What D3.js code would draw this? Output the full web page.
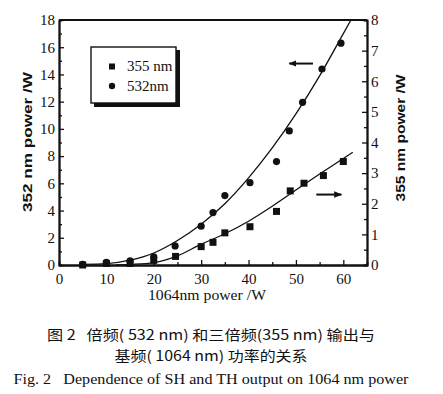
<!DOCTYPE html>
<html>
<head>
<meta charset="utf-8">
<script src="https://cdn.jsdelivr.net/npm/d3@7"></script>
<style>
  body { margin: 0; background: #fff; }
  text { fill: #111; }
</style>
</head>
<body>
<div class="chart"></div>
<script>
// data
var xTicks = [0, 10, 20, 30, 40, 50, 60];
var leftTicks = [0, 2, 4, 6, 8, 10, 12, 14, 16, 18];
var rightTicks = [0, 1, 2, 3, 4, 5, 6, 7, 8];

// 532 nm (circles, left axis)
var shX = [5, 10, 15, 20, 24.5, 30, 32.5, 35, 40.3, 45.9, 48.6, 51.4, 55.5, 59.5];
var shW = [0.05, 0.2, 0.3, 0.6, 1.4, 2.85, 3.85, 5.1, 6.05, 7.6, 9.85, 11.95, 14.4, 16.3];
var shFitX = [5, 10, 15, 20, 25, 30, 35, 40, 45, 50, 55, 60, 61.6];
var shFitW = [0.05, 0.1, 0.35, 0.88, 1.8, 3.0, 4.5, 6.4, 8.6, 11.1, 13.9, 17.0, 18];

// 355 nm (squares, right axis)
var thX = [5, 10, 15, 20, 24.6, 30, 32.5, 35, 40.3, 45.9, 48.8, 51.7, 55.8, 60];
var thW = [0, 0.05, 0.05, 0.15, 0.28, 0.6, 0.74, 1.05, 1.25, 1.75, 2.42, 2.67, 2.92, 3.38];
var thFitX = [12, 15, 20, 25, 30, 35, 40, 45, 50, 55, 60, 62];
var thFitW = [0, 0.02, 0.08, 0.3, 0.68, 1.02, 1.43, 1.92, 2.45, 2.97, 3.48, 3.68];

var legendLabels = ["355 nm", "532nm"];
var caption = [
  "图 2   倍频( 532 nm) 和三倍频(355 nm) 输出与",
  "基频( 1064 nm) 功率的关系",
  "Fig. 2   Dependence of SH and TH output on 1064 nm power"
];

var W = 443, H = 394;
var svg = d3.select(".chart").append("svg")
  .attr("width", W).attr("height", H)
  .style("display", "block");

var x = d3.scaleLinear().domain([0, 65]).range([59, 367]);
var yL = d3.scaleLinear().domain([0, 18]).range([265, 20]);
var yR = d3.scaleLinear().domain([0, 8]).range([265, 20]);

var serif = "'Liberation Serif', 'DejaVu Serif', serif";

// arrow heads
var defs = svg.append("defs");
defs.append("marker").attr("id", "ah")
  .attr("viewBox", "0 0 10 10").attr("refX", 9).attr("refY", 5)
  .attr("markerWidth", 4).attr("markerHeight", 4).attr("orient", "auto-start-reverse")
  .append("path").attr("d", "M0,1 L10,5 L0,9 Z").attr("fill", "#111");

function styleAxis(g) {
  g.selectAll("path").attr("stroke", "#111").attr("stroke-width", 1.8);
  g.selectAll("line").attr("stroke", "#111").attr("stroke-width", 1.3);
  g.selectAll("text").attr("font-family", serif).attr("font-size", 15).attr("fill", "#111");
}

// minor ticks
svg.append("g").attr("transform", "translate(59,0)")
  .call(d3.axisLeft(yL).tickValues(d3.range(1, 18, 2)).tickSize(-3).tickFormat(""))
  .call(styleAxis);
svg.append("g").attr("transform", "translate(367,0)")
  .call(d3.axisRight(yR).tickValues(d3.range(0.5, 8, 1)).tickSize(-3).tickFormat(""))
  .call(styleAxis);
svg.append("g").attr("transform", "translate(0,265)")
  .call(d3.axisBottom(x).tickValues([5, 15, 25, 35, 45, 55, 65]).tickSize(-3).tickFormat(""))
  .call(styleAxis);

// major axes
svg.append("g").attr("transform", "translate(59,0)")
  .call(d3.axisLeft(yL).tickValues(leftTicks).tickSize(-5).tickPadding(4).tickSizeOuter(0))
  .call(styleAxis);
svg.append("g").attr("transform", "translate(367,0)")
  .call(d3.axisRight(yR).tickValues(rightTicks).tickSize(-5).tickPadding(4).tickSizeOuter(0))
  .call(styleAxis);
svg.append("g").attr("transform", "translate(0,265)")
  .call(d3.axisBottom(x).tickValues(xTicks).tickSize(-5).tickPadding(8).tickSizeOuter(0))
  .call(styleAxis);

// top frame
svg.append("line")
  .attr("x1", x(0)).attr("x2", x(65)).attr("y1", yL(18)).attr("y2", yL(18))
  .attr("stroke", "#111").attr("stroke-width", 1.8);

// fit curves
var shFit = shFitX.map(function(d, i) { return [d, shFitW[i]]; });
var thFit = thFitX.map(function(d, i) { return [d, thFitW[i]]; });

svg.append("path").datum(shFit)
  .attr("d", d3.line().x(function(d) { return x(d[0]); }).y(function(d) { return yL(d[1]); }).curve(d3.curveMonotoneX))
  .attr("fill", "none").attr("stroke", "#111").attr("stroke-width", 1.3);
svg.append("path").datum(thFit)
  .attr("d", d3.line().x(function(d) { return x(d[0]); }).y(function(d) { return yR(d[1]); }).curve(d3.curveMonotoneX))
  .attr("fill", "none").attr("stroke", "#111").attr("stroke-width", 1.3);

// points
var sh = shX.map(function(d, i) { return { x: d, w: shW[i] }; });
var th = thX.map(function(d, i) { return { x: d, w: thW[i] }; });

svg.selectAll("rect.th").data(th).enter().append("rect")
  .attr("class", "th")
  .attr("x", function(d) { return x(d.x) - 3.5; })
  .attr("y", function(d) { return yR(d.w) - 3.5; })
  .attr("width", 7).attr("height", 7)
  .attr("fill", "#111");

svg.selectAll("circle.sh").data(sh).enter().append("circle")
  .attr("class", "sh")
  .attr("cx", function(d) { return x(d.x); })
  .attr("cy", function(d) { return yL(d.w); })
  .attr("r", 3.6)
  .attr("fill", "#111");

// arrows: 532 -> left axis, 355 -> right axis
svg.append("line")
  .attr("x1", x(53.6)).attr("x2", x(48.6)).attr("y1", yL(14.8)).attr("y2", yL(14.8))
  .attr("stroke", "#111").attr("stroke-width", 2).attr("marker-end", "url(#ah)");
svg.append("line")
  .attr("x1", x(54.3)).attr("x2", x(59.6)).attr("y1", yR(2.3)).attr("y2", yR(2.3))
  .attr("stroke", "#111").attr("stroke-width", 2).attr("marker-end", "url(#ah)");

// legend box with shadow
var lg = svg.append("g").attr("transform", "translate(91,47)");
lg.append("rect").attr("x", 3).attr("y", 3).attr("width", 86).attr("height", 57).attr("fill", "#111");
lg.append("rect").attr("x", 0).attr("y", 0).attr("width", 85).attr("height", 56)
  .attr("fill", "#fff").attr("stroke", "#111").attr("stroke-width", 1.4);
lg.append("rect").attr("x", 18).attr("y", 16.5).attr("width", 6).attr("height", 6).attr("fill", "#111");
lg.append("circle").attr("cx", 21).attr("cy", 39).attr("r", 3.2).attr("fill", "#111");
lg.selectAll("text.lab").data(legendLabels).enter().append("text")
  .attr("class", "lab")
  .attr("x", 36)
  .attr("y", function(d, i) { return 24 + i * 20; })
  .attr("font-family", serif).attr("font-size", 15)
  .text(function(d) { return d; });

// axis titles
svg.append("text")
  .attr("transform", "translate(32,142) rotate(-90)")
  .attr("text-anchor", "middle")
  .attr("font-family", "'Liberation Sans', Arial, sans-serif").attr("font-weight", "bold").attr("font-size", 13.5)
  .attr("textLength", 140).attr("lengthAdjust", "spacingAndGlyphs")
  .text("352 nm power /W");
svg.append("text")
  .attr("transform", "translate(405,138) rotate(-90)")
  .attr("text-anchor", "middle")
  .attr("font-family", "'Liberation Sans', Arial, sans-serif").attr("font-weight", "bold").attr("font-size", 13.5)
  .attr("textLength", 127).attr("lengthAdjust", "spacingAndGlyphs")
  .text("355 nm power /W");
svg.append("text")
  .attr("x", 207).attr("y", 300)
  .attr("text-anchor", "middle")
  .attr("font-family", serif).attr("font-size", 15)
  .attr("textLength", 118).attr("lengthAdjust", "spacingAndGlyphs")
  .text("1064nm power /W");

// caption
var capY = [340, 361, 384];
var capW = [328, 193, 395];
svg.selectAll("text.cap").data(caption).enter().append("text")
  .attr("class", "cap")
  .attr("x", 211)
  .attr("y", function(d, i) { return capY[i]; })
  .attr("text-anchor", "middle")
  .attr("font-family", function(d, i) { return i < 2 ? "'Noto Sans CJK SC', sans-serif" : serif; })
  .attr("font-size", 14)
  .attr("fill", "#222")
  .attr("textLength", function(d, i) { return capW[i]; })
  .attr("lengthAdjust", "spacingAndGlyphs")
  .style("white-space", "pre")
  .text(function(d) { return d; });
</script>
</body>
</html>
